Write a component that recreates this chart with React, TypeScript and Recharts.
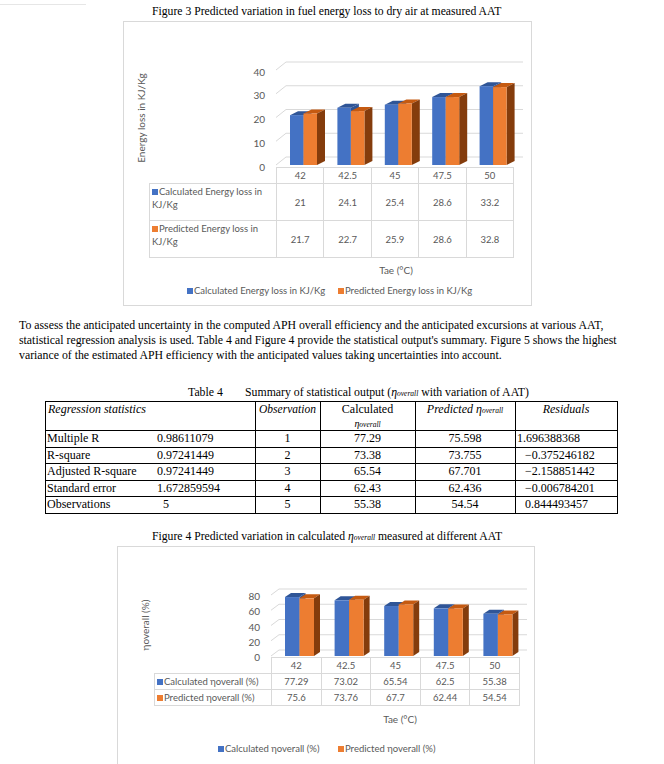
import React from 'react';
import { BarChart, Bar, XAxis, YAxis, CartesianGrid } from 'recharts';

// ---------- data ----------
const aatCategories = ['42', '42.5', '45', '47.5', '50'];
const calcEnergyLoss = [21, 24.1, 25.4, 28.6, 33.2];
const predEnergyLoss = [21.7, 22.7, 25.9, 28.6, 32.8];
const energyTicks = [0, 10, 20, 30, 40];

const calcEta = [77.29, 73.02, 65.54, 62.5, 55.38];
const predEta = [75.6, 73.76, 67.7, 62.44, 54.54];
const etaTicks = [0, 20, 40, 60, 80];

const regLabels = ['Multiple R', 'R-square', 'Adjusted R-square', 'Standard error', 'Observations'];
const regValues = ['0.98611079', '0.97241449', '0.97241449', '1.672859594', '5'];
const obsNumbers = ['1', '2', '3', '4', '5'];
const tableCalculated = ['77.29', '73.38', '65.54', '62.43', '55.38'];
const tablePredicted = ['75.598', '73.755', '67.701', '62.436', '54.54'];
const tableResiduals = ['1.696388368', '\u22120.375246182', '\u22122.158851442', '\u22120.006784201', '0.844493457'];

const fig3Data = aatCategories.map((c, i) => ({ cat: c, calc: calcEnergyLoss[i], pred: predEnergyLoss[i] }));
const fig4Data = aatCategories.map((c, i) => ({ cat: c, calc: calcEta[i], pred: predEta[i] }));

// ---------- styles ----------
const BLUE = '#4472C4';
const BLUE_TOP = '#2F5597';
const ORANGE = '#ED7D31';
const ORANGE_TOP = '#C55A11';
const ORANGE_SIDE = '#843C0C';
const GRID = '#d9d9d9';
const CHART_TEXT = '#595959';
const CHART_FONT = 'Lato, "Open Sans", sans-serif';
const DOC_FONT = '"Liberation Serif", "Times New Roman", serif';

const make3DBar = (front: string, top: string, side: string, dx: number, dy: number, shift: number) =>
  (props: any) => {
    const { x, y, width, height } = props;
    if (x == null || width == null || height == null) return null;
    const X = x + shift;
    return (
      <g>
        <path d={`M${X},${y} L${X + dx},${y - dy} L${X + width + dx},${y - dy} L${X + width},${y} Z`} fill={top} />
        <path d={`M${X + width},${y} L${X + width + dx},${y - dy} L${X + width + dx},${y + height - dy} L${X + width},${y + height} Z`} fill={side} />
        <rect x={X} y={y} width={width} height={height} fill={front} />
      </g>
    );
  };

const gridLine3D = (dx: number, dy: number) => (props: any) => {
  const { x1, y1, x2, y2 } = props;
  return (
    <path
      key={`g-${y1}`}
      d={`M${x1},${y1} L${x1 + dx},${y1 - dy} L${x2 + dx},${y2 - dy}`}
      stroke={GRID}
      strokeWidth={1}
      fill="none"
    />
  );
};

const yTick = (dy: number) => (props: any) => {
  const { x, y, payload } = props;
  return (
    <text x={x} y={y + dy} textAnchor="end" dominantBaseline="middle" fill={CHART_TEXT} fontSize={10} fontFamily={CHART_FONT}>
      {payload.value}
    </text>
  );
};

const abs = (left: number, top: number, extra: React.CSSProperties = {}): React.CSSProperties => ({
  position: 'absolute',
  left,
  top,
  ...extra,
});

const Square = ({ color }: { color: string }) => (
  <span style={{ display: 'inline-block', width: 6, height: 6, background: color, marginRight: 1, verticalAlign: 'middle', position: 'relative', top: -1 }} />
);

const Eta = ({ size = 7 }: { size?: number }) => (
  <span style={{ fontStyle: 'italic' }}>
    η<span style={{ fontSize: size, fontStyle: 'italic', verticalAlign: 'baseline' }}>overall</span>
  </span>
);

// ---------- data table under charts ----------
type DTProps = {
  keyLeft: number;
  catLeft: number;
  colW: number;
  headerTop: number;
  headerH: number;
  rowH: number;
  rowLabels: React.ReactNode[];
  rowColors: string[];
  rowValues: number[][];
  categories: string[];
};

const DataTable = ({ keyLeft, catLeft, colW, headerTop, headerH, rowH, rowLabels, rowColors, rowValues, categories }: DTProps) => {
  const cells: React.ReactNode[] = [];
  const base: React.CSSProperties = {
    position: 'absolute',
    boxSizing: 'border-box',
    border: `1px solid ${GRID}`,
    fontFamily: CHART_FONT,
    fontSize: 9.5,
    color: CHART_TEXT,
    display: 'flex',
    alignItems: 'center',
    justifyContent: 'center',
  };
  categories.forEach((c, i) => {
    cells.push(
      <div key={`h${i}`} style={{ ...base, left: catLeft + i * colW, top: headerTop, width: colW + 1, height: headerH + 1 }}>{c}</div>
    );
  });
  rowLabels.forEach((lab, r) => {
    const top = headerTop + headerH + r * rowH;
    cells.push(
      <div key={`l${r}`} style={{ ...base, left: keyLeft, top, width: catLeft - keyLeft + 1, height: rowH + 1, justifyContent: 'flex-start', alignItems: 'flex-start', padding: '1px 2px', lineHeight: '13px' }}>
        <div><Square color={rowColors[r]} />{lab}</div>
      </div>
    );
    rowValues[r].forEach((v, i) => {
      cells.push(
        <div key={`v${r}-${i}`} style={{ ...base, left: catLeft + i * colW, top, width: colW + 1, height: rowH + 1 }}>{v}</div>
      );
    });
  });
  return <>{cells}</>;
};

const ChartLegend = ({ top, items }: { top: number; items: { left: number; color: string; label: React.ReactNode }[] }) => (
  <>
    {items.map((it, i) => (
      <div key={i} style={abs(it.left, top - 7, { height: 14, lineHeight: '14px', fontFamily: CHART_FONT, fontSize: 9.5, color: CHART_TEXT, whiteSpace: 'nowrap' })}>
        <Square color={it.color} />{it.label}
      </div>
    ))}
  </>
);

const RotatedTitle = ({ cx, cy, text }: { cx: number; cy: number; text: string }) => (
  <div style={abs(cx - 70, cy - 7, { width: 140, height: 14, lineHeight: '14px', textAlign: 'center', transform: 'rotate(-90deg)', fontFamily: CHART_FONT, fontSize: 10, color: CHART_TEXT, whiteSpace: 'nowrap' })}>
    {text}
  </div>
);

const CenterText = ({ cx, cy, children, size = 10 }: { cx: number; cy: number; children: React.ReactNode; size?: number }) => (
  <div style={abs(cx - 60, cy - 7, { width: 120, height: 14, lineHeight: '14px', textAlign: 'center', fontFamily: CHART_FONT, fontSize: size, color: CHART_TEXT })}>
    {children}
  </div>
);

// ---------- regression table ----------
const colX = [45, 157, 255, 320, 415, 515, 617];
const headerTop = 401;
const headerBottom = 430;
const rowH = 16.5;

const RegressionTable = () => {
  const line = (x: number, y: number, w: number, h: number, k: string) => (
    <div key={k} style={abs(x, y, { width: w, height: h, background: '#000' })} />
  );
  const tableBottom = headerBottom + rowH * regLabels.length;
  const lines: React.ReactNode[] = [];
  lines.push(line(colX[0], headerTop, colX[6] - colX[0] + 1, 1, 'ht'));
  lines.push(line(colX[0], headerBottom, colX[6] - colX[0] + 1, 1, 'hb'));
  regLabels.forEach((_, r) => lines.push(line(colX[0], headerBottom + rowH * (r + 1), colX[6] - colX[0] + 1, 1, `hr${r}`)));
  [0, 2, 3, 4, 5, 6].forEach((c) => lines.push(line(colX[c], headerTop, 1, tableBottom - headerTop + 1, `v${c}`)));

  const txt: React.CSSProperties = { fontFamily: DOC_FONT, fontSize: 12, color: '#000', whiteSpace: 'nowrap', lineHeight: '15px', height: 15 };
  const cellC = (c: number, top: number, content: React.ReactNode, k: string, extra: React.CSSProperties = {}) => (
    <div key={k} style={abs(colX[c], top, { ...txt, width: colX[c + 1] - colX[c], textAlign: 'center', ...extra })}>{content}</div>
  );
  const items: React.ReactNode[] = [];
  items.push(<div key="hreg" style={abs(colX[0] + 3, headerTop + 1, { ...txt, fontStyle: 'italic' })}>Regression statistics</div>);
  items.push(cellC(2, headerTop + 1, 'Observation', 'hobs', { fontStyle: 'italic', fontSize: 11.5 }));
  items.push(cellC(3, headerTop + 1, 'Calculated', 'hcalc'));
  items.push(cellC(3, headerTop + 15, <Eta size={7.5} />, 'hcalc2', { fontSize: 10 }));
  items.push(cellC(4, headerTop + 1, <span style={{ fontStyle: 'italic' }}>Predicted <Eta size={7.5} /></span>, 'hpred'));
  items.push(cellC(5, headerTop + 1, 'Residuals', 'hres', { fontStyle: 'italic' }));
  regLabels.forEach((lab, r) => {
    const top = headerBottom + rowH * r + 1;
    items.push(<div key={`lab${r}`} style={abs(colX[0] + 2, top, txt)}>{lab}</div>);
    items.push(<div key={`val${r}`} style={abs(colX[1] + (r === 4 ? 6 : 0), top, txt)}>{regValues[r]}</div>);
    items.push(cellC(2, top, obsNumbers[r], `obs${r}`));
    items.push(cellC(3, top, tableCalculated[r], `cal${r}`));
    items.push(cellC(4, top, tablePredicted[r], `pre${r}`));
    items.push(<div key={`res${r}`} style={abs(colX[5] + (r === 0 ? 2 : 10), top, txt)}>{tableResiduals[r]}</div>);
  });
  return <>{lines}{items}</>;
};

// ---------- page ----------
export default function App() {
  const docText: React.CSSProperties = { fontFamily: DOC_FONT, fontSize: 11.7, color: '#000', whiteSpace: 'nowrap' };
  return (
    <div style={{ position: 'absolute', left: 0, top: 0, width: 664, height: 764, overflow: 'hidden', background: '#fff' }}>
      <div style={abs(0, 4, { width: 86, height: 1, background: '#e6e6e6' })} />
      <div style={abs(152, 5, { ...docText, lineHeight: '14px' })}>
        Figure 3 Predicted variation in fuel energy loss to dry air at measured AAT
      </div>

      {/* Figure 3 chart box */}
      <div style={abs(123, 21, { width: 409, height: 285, boxSizing: 'border-box', border: `1px solid ${GRID}` })} />
      <div style={abs(123, 21)}>
        <BarChart width={409} height={285} data={fig3Data} margin={{ top: 49, right: 19, bottom: 141, left: 113 }} barGap={0} barSize={13.5}>
          <CartesianGrid vertical={false} horizontal={gridLine3D(10, 8)} />
          <XAxis dataKey="cat" hide />
          <YAxis width={40} domain={[0, 40]} ticks={energyTicks} interval={0} axisLine={false} tickLine={false} tickSize={0} tickMargin={11} tick={yTick(3)} />
          <Bar dataKey="calc" isAnimationActive={false} shape={make3DBar(BLUE, BLUE_TOP, BLUE_TOP, 8, 4, 4)} />
          <Bar dataKey="pred" isAnimationActive={false} shape={make3DBar(ORANGE, ORANGE_TOP, ORANGE_SIDE, 8, 4, 4)} />
        </BarChart>
      </div>
      <RotatedTitle cx={141} cy={118} text="Energy loss in KJ/Kg" />
      <DataTable
        keyLeft={149}
        catLeft={276}
        colW={47.4}
        headerTop={167}
        headerH={16}
        rowH={37}
        categories={aatCategories}
        rowColors={[BLUE, ORANGE]}
        rowLabels={[<>Calculated Energy loss in<br />KJ/Kg</>, <>Predicted Energy loss in<br />KJ/Kg</>]}
        rowValues={[calcEnergyLoss, predEnergyLoss]}
      />
      <CenterText cx={396} cy={270}>Tae (°C)</CenterText>
      <ChartLegend
        top={291}
        items={[
          { left: 187, color: BLUE, label: 'Calculated Energy loss in KJ/Kg' },
          { left: 338, color: ORANGE, label: 'Predicted Energy loss in KJ/Kg' },
        ]}
      />

      {/* paragraph */}
      <div style={abs(19, 318, { ...docText, fontSize: 11.8, lineHeight: '15px' })}>
        To assess the anticipated uncertainty in the computed APH overall efficiency and the anticipated excursions at various AAT,<br />
        statistical regression analysis is used. Table 4 and Figure 4 provide the statistical output's summary. Figure 5 shows the highest<br />
        variance of the estimated APH efficiency with the anticipated values taking uncertainties into account.
      </div>

      {/* table caption */}
      <div style={abs(188, 385, { ...docText, fontSize: 11.8, lineHeight: '15px' })}>Table 4</div>
      <div style={abs(245, 385, { ...docText, fontSize: 11.8, lineHeight: '15px' })}>
        Summary of statistical output (<Eta size={7.5} /> with variation of AAT)
      </div>
      <RegressionTable />

      {/* Figure 4 caption */}
      <div style={abs(152, 529, { ...docText, fontSize: 11.7, lineHeight: '15px' })}>
        Figure 4 Predicted variation in calculated <Eta size={7.5} /> measured at different AAT
      </div>

      {/* Figure 4 chart box */}
      <div style={abs(117, 546, { width: 418, height: 240, boxSizing: 'border-box', border: `1px solid ${GRID}` })} />
      <div style={abs(117, 546)}>
        <BarChart width={418} height={240} data={fig4Data} margin={{ top: 49, right: 16, bottom: 130, left: 114 }} barGap={0} barSize={14.5}>
          <CartesianGrid vertical={false} horizontal={gridLine3D(8, 6)} />
          <XAxis dataKey="cat" hide />
          <YAxis width={40} domain={[0, 80]} ticks={etaTicks} interval={0} axisLine={false} tickLine={false} tickSize={0} tickMargin={11} tick={yTick(2.5)} />
          <Bar dataKey="calc" isAnimationActive={false} shape={make3DBar(BLUE, BLUE_TOP, BLUE_TOP, 6, 4, 4)} />
          <Bar dataKey="pred" isAnimationActive={false} shape={make3DBar(ORANGE, ORANGE_TOP, ORANGE_SIDE, 6, 4, 4)} />
        </BarChart>
      </div>
      <RotatedTitle cx={145} cy={625} text="ηoverall (%)" />
      <DataTable
        keyLeft={154}
        catLeft={271}
        colW={49.6}
        headerTop={657}
        headerH={16}
        rowH={16}
        categories={aatCategories}
        rowColors={[BLUE, ORANGE]}
        rowLabels={['Calculated ηoverall (%)', 'Predicted ηoverall (%)']}
        rowValues={[calcEta, predEta]}
      />
      <CenterText cx={400} cy={719}>Tae (°C)</CenterText>
      <ChartLegend
        top={749}
        items={[
          { left: 218, color: BLUE, label: 'Calculated ηoverall (%)' },
          { left: 338, color: ORANGE, label: 'Predicted ηoverall (%)' },
        ]}
      />
    </div>
  );
}
